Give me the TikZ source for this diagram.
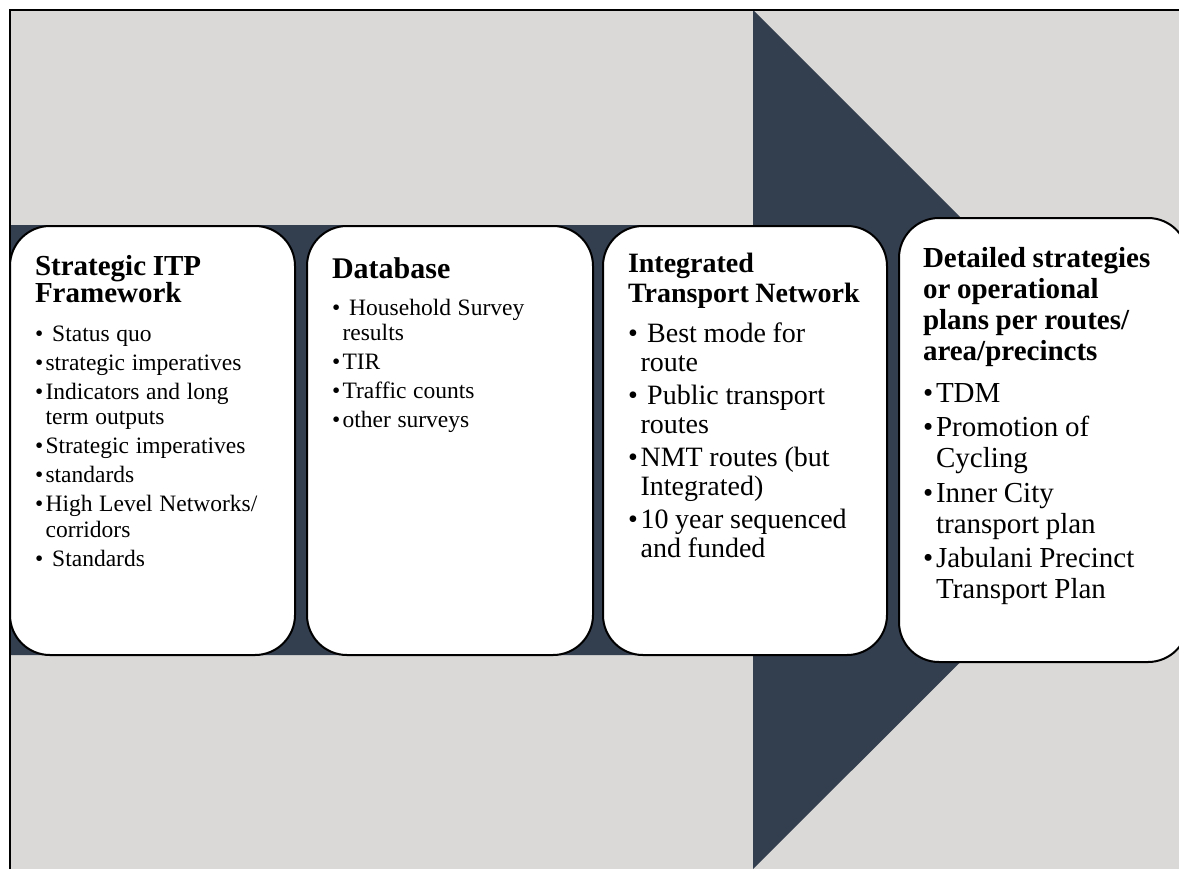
\documentclass[tikz,border=0pt]{standalone}
\usepackage{fontspec}
\setmainfont{Liberation Serif}
\definecolor{panelGray}{RGB}{218,217,215}
\definecolor{arrowNavy}{RGB}{51,62,79}
\newcommand{\bul}[1]{\par\hangindent=0.45em\hangafter=1\noindent\makebox[0.45em][l]{\textbullet}#1}
\begin{document}
\begin{tikzpicture}[x=0.5pt, y=-0.5pt, every node/.style={rectangle}, line width=1pt,
	stage/.style={draw, fill=white, rounded corners=20pt, inner sep=0pt, minimum height=214.5pt},
	stageText/.style={anchor=north west, inner sep=0pt, outer sep=0pt, align=left, text width=134pt}]
	\useasboundingbox (0,0) rectangle (1179,869);
	\clip (0,0) rectangle (1179,869);
	\fill[panelGray] (10,10) rectangle (1179,869);
	\fill[arrowNavy] (10,225) -- (753,225) -- (753,10) -- (1183,440) -- (753,869) -- (753,655) -- (10,655) -- cycle;
	\draw (10,869) -- (10,10) -- (1179,10);
	\node[stage, minimum width=142.5pt] (framework) at (152.5,440.5) {};
	\node[stage, minimum width=143pt] (database) at (450,440.5) {};
	\node[stage, minimum width=142pt] (network) at (745,440.5) {};
	\node[stage, minimum width=144.5pt, minimum height=222pt] (plans) at (1043.5,440) {};
	\node[stageText] (frameworkText) at (35,255) {{\fontsize{14.5}{13.5}\selectfont\bfseries Strategic ITP\newline Framework\par}
		\vspace{5pt}\fontsize{11.75}{12.75}\selectfont\setlength{\parskip}{1.75pt}
		\bul{\ Status quo}
		\bul{strategic imperatives}
		\bul{Indicators and long\newline term outputs}
		\bul{Strategic imperatives}
		\bul{standards}
		\bul{High Level Networks/\newline corridors}
		\bul{\ Standards}\par};
	\node[stageText] (databaseText) at (332,258) {{\fontsize{15}{15}\selectfont\bfseries Database\par}
		\vspace{4pt}\fontsize{11.75}{12.5}\selectfont\setlength{\parskip}{2pt}
		\bul{\ Household Survey\newline results}
		\bul{TIR}
		\bul{Traffic counts}
		\bul{other surveys}\par};
	\node[stageText] (networkText) at (628,253) {{\fontsize{14}{15}\selectfont\bfseries Integrated\newline Transport Network\par}
		\vspace{3.5pt}\fontsize{14}{14.5}\selectfont\setlength{\parskip}{2pt}
		\bul{\ Best mode for\newline route}
		\bul{\ Public transport\newline routes}
		\bul{NMT routes (but\newline Integrated)}
		\bul{10 year sequenced\newline and funded}\par};
	\node[stageText, text width=140pt] (plansText) at (923,247) {{\fontsize{14.5}{15.5}\selectfont\bfseries Detailed strategies\newline or operational\newline plans per routes/\newline area/precincts\par}
		\vspace{3.75pt}\fontsize{14.5}{15.5}\selectfont\setlength{\parskip}{1.75pt}
		\bul{TDM}
		\bul{Promotion of\newline Cycling}
		\bul{Inner City\newline transport plan}
		\bul{Jabulani Precinct\newline Transport Plan}\par};
\end{tikzpicture}
\end{document}
